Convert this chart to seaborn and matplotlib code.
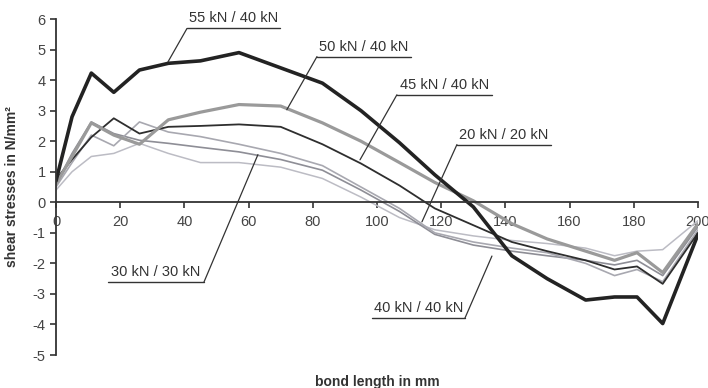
"""
shear stress along bond length for several load levels
"""

import seaborn as sns
import matplotlib.pyplot as plt
import pandas as pd
import numpy as np

# measuring positions along the bond (mm)
bond_length = [0, 5, 11, 18, 26, 35, 45, 57, 70, 83, 95, 107, 118, 130, 142, 153, 165, 174, 181, 189, 200]

# shear stresses in N/mm^2
tau_55_40 = [0.7, 2.8, 4.23, 3.6, 4.33, 4.55, 4.63, 4.9, 4.4, 3.9, 3.0, 1.95, 0.9, -0.15, -1.75, -2.5, -3.2, -3.1, -3.1, -3.97, -1.05]
tau_50_40 = [0.6, 1.5, 2.6, 2.2, 1.9, 2.7, 2.95, 3.2, 3.15, 2.6, 2.0, 1.3, 0.65, 0.05, -0.7, -1.2, -1.6, -1.9, -1.65, -2.3, -0.7]
tau_45_40 = [0.75, 1.4, 2.13, 2.75, 2.25, 2.47, 2.5, 2.55, 2.47, 1.9, 1.27, 0.55, -0.2, -0.75, -1.3, -1.6, -1.9, -2.2, -2.1, -2.67, -1.0]
tau_40_40 = [0.5, 1.3, 2.2, 1.85, 2.63, 2.3, 2.15, 1.9, 1.6, 1.2, 0.5, -0.2, -1.0, -1.3, -1.5, -1.65, -2.0, -2.4, -2.2, -2.6, -0.9]
tau_30_30 = [0.6, 1.6, 2.63, 2.25, 2.03, 1.93, 1.8, 1.65, 1.4, 1.05, 0.4, -0.3, -1.05, -1.4, -1.6, -1.75, -1.9, -2.05, -1.9, -2.4, -0.8]
tau_20_20 = [0.4, 1.0, 1.5, 1.6, 1.93, 1.6, 1.3, 1.3, 1.15, 0.78, 0.17, -0.5, -0.9, -1.1, -1.25, -1.35, -1.5, -1.75, -1.6, -1.55, -0.6]

series = {
    "55 kN / 40 kN": tau_55_40,
    "50 kN / 40 kN": tau_50_40,
    "45 kN / 40 kN": tau_45_40,
    "40 kN / 40 kN": tau_40_40,
    "30 kN / 30 kN": tau_30_30,
    "20 kN / 20 kN": tau_20_20,
}

line_style = {
    "55 kN / 40 kN": ("#232323", 2.6),
    "50 kN / 40 kN": ("#9a9a9a", 2.3),
    "45 kN / 40 kN": ("#2e2e2e", 1.3),
    "40 kN / 40 kN": ("#a8a8b0", 1.2),
    "30 kN / 30 kN": ("#8e8e96", 1.2),
    "20 kN / 20 kN": ("#bcbcc4", 1.1),
}

# label text: underline start/end x, underline y, pointer end (x, y)
label_pos = {
    "55 kN / 40 kN": (40.8, 69.8, 5.69, 34.9, 4.6),
    "50 kN / 40 kN": (81.3, 110.6, 4.77, 71.9, 3.03),
    "45 kN / 40 kN": (106.2, 135.8, 3.52, 94.7, 1.39),
    "20 kN / 20 kN": (124.9, 154.2, 1.89, 114.0, -0.64),
    "30 kN / 30 kN": (16.2, 46.1, -2.61, 62.9, 1.56),
    "40 kN / 40 kN": (98.4, 127.4, -3.79, 135.8, -1.76),
}

df = pd.concat(
    [pd.DataFrame({"x": bond_length, "tau": vals, "load": name}) for name, vals in series.items()],
    ignore_index=True,
)

sns.set_style("white")
plt.rcParams["font.family"] = ["Liberation Sans", "DejaVu Sans"]
plt.rcParams["axes.unicode_minus"] = False

fig = plt.figure(figsize=(7.08, 3.88), dpi=100)
ax = fig.add_axes([0.0791, 0.085, 0.9068, 0.866])

# draw light curves first so the heavy ones stay on top
for name in ["20 kN / 20 kN", "30 kN / 30 kN", "40 kN / 40 kN", "45 kN / 40 kN", "50 kN / 40 kN", "55 kN / 40 kN"]:
    col, lw = line_style[name]
    sns.lineplot(data=df[df.load == name], x="x", y="tau", color=col, linewidth=lw, ax=ax,
                 legend=False, estimator=None, sort=False)

for name, (x0, x1, yl, xe, ye) in label_pos.items():
    # the pointer attaches to the right end for labels below the curves
    xa = x1 if yl < 0 else x0
    ax.plot([x0, x1], [yl, yl], color="#333333", linewidth=1.0)
    ax.plot([xa, xe], [yl, ye], color="#333333", linewidth=0.9)
    ax.text((x0 + x1) / 2, yl + 0.1, name, ha="center", va="bottom", fontsize=10.5, color="#333333")

ax.set_xlim(0, 200)
ax.set_ylim(-5, 6)
ax.set_xticks(np.arange(0, 201, 20))
ax.set_yticks(np.arange(-5, 7, 1))

ax.spines[["right", "top"]].set_visible(False)
ax.spines["bottom"].set_position(("data", 0))
ax.spines["bottom"].set_color("#333333")
ax.spines["left"].set_color("#333333")
ax.spines["bottom"].set_linewidth(1.3)
ax.spines["left"].set_linewidth(1.3)
ax.tick_params(axis="both", direction="out", length=4, width=1.2, colors="#333333",
               labelsize=10.5, labelcolor="#444444", bottom=True, left=True)
ax.tick_params(axis="x", pad=5)

ax.set_xlabel("bond length in mm", fontsize=10, fontweight="bold", color="#333333")
ax.xaxis.set_label_coords(0.5, -0.06)
ax.set_ylabel("shear stresses in N/mm²", fontsize=10, fontweight="bold", color="#333333")
ax.yaxis.set_label_coords(-0.058, 0.5)

fig.savefig("out.png", dpi=100)
